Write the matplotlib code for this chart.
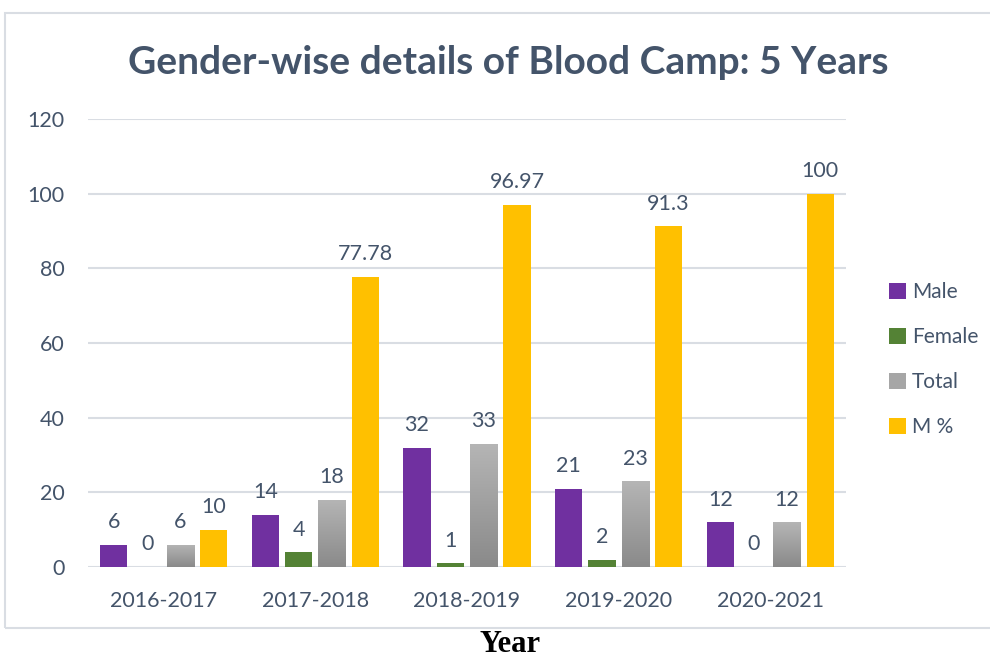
import numpy as np
import matplotlib
matplotlib.use("Agg")
import matplotlib.pyplot as plt
from matplotlib.patches import Rectangle
from matplotlib.colors import LinearSegmentedColormap

years = ["2016-2017", "2017-2018", "2018-2019", "2019-2020", "2020-2021"]
male = [6, 14, 32, 21, 12]
female = [0, 4, 1, 2, 0]
total = [6, 18, 33, 23, 12]
m_pct = [10, 77.78, 96.97, 91.3, 100]
series_names = ["Male", "Female", "Total", "M %"]

TEXT = "#44546A"
colors = ["#7030A0", "#548235", "#A6A6A6", "#FFC000"]
grey_cmap = LinearSegmentedColormap.from_list("g", ["#8A8A8A", "#B5B5B5"])

fig = plt.figure(figsize=(9.9, 6.6), dpi=100)
fig.patches.append(Rectangle((5 / 990, 1 - 628 / 660), 1.2, 615 / 660,
                             transform=fig.transFigure, fill=False,
                             edgecolor="#D9DDE3", lw=1.5))
ax = fig.add_axes([88 / 990, 1 - 567 / 660, 758 / 990, 448 / 660])

x = np.arange(len(years))
width, step = 0.18, 0.22
all_series = [male, female, total, m_pct]
for k, (vals, name, col) in enumerate(zip(all_series, series_names, colors)):
    pos = x + (k - 1.5) * step
    bars = ax.bar(pos, vals, width, color=col, label=name, zorder=3)
    if name == "Total":
        # grey bars have a light-to-dark gradient
        for b in bars:
            im = ax.imshow(np.linspace(0, 1, 100).reshape(-1, 1), cmap=grey_cmap,
                           aspect="auto", origin="lower", zorder=3.5,
                           extent=(b.get_x(), b.get_x() + b.get_width(), 0, b.get_height()))
            im.set_clip_path(b)
    for p, v in zip(pos, vals):
        ax.annotate(f"{v:g}", (p, v), xytext=(0, 9), textcoords="offset points",
                    ha="center", va="bottom", fontsize=15.5, color=TEXT, family="Lato")

ax.set_xlim(-0.5, 4.5)
ax.set_ylim(0, 120)
ax.set_yticks(range(0, 121, 20))
ax.set_xticks(x, years)
ax.grid(axis="y", color="#D9DDE3", lw=1.5, zorder=0)
ax.set_axisbelow(True)
for s in ax.spines.values():
    s.set_visible(False)
ax.tick_params(length=0, labelsize=15.5, labelcolor=TEXT)
ax.tick_params(axis="y", pad=17)
ax.tick_params(axis="x", pad=17)
for lab in ax.get_xticklabels() + ax.get_yticklabels():
    lab.set_family("Lato")

leg = ax.legend(loc="upper left", bbox_to_anchor=(1.032, 0.677), frameon=False,
                handlelength=0.8, handleheight=0.8, handletextpad=0.3,
                labelspacing=1.2, prop={"family": "Lato", "size": 15})
for t in leg.get_texts():
    t.set_color(TEXT)

fig.text(508 / 990, 1 - 62 / 660, "Gender-wise details of Blood Camp: 5 Years",
         ha="center", va="center", fontsize=28, fontweight="bold",
         color=TEXT, family="Lato")
fig.text(510 / 990, 1 - 645 / 660, "Year", ha="center", va="center",
         fontsize=22, fontweight="bold", color="black", family="Liberation Serif")

fig.savefig("out.png", dpi=100)
